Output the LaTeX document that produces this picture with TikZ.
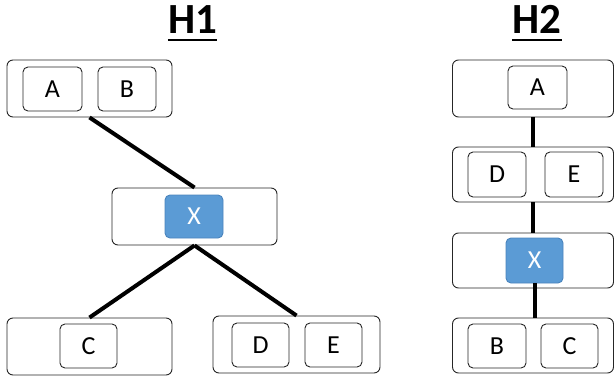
\documentclass[tikz,border=0pt]{standalone}
\usepackage{fontspec}
\setmainfont{Carlito}
\definecolor{xblue}{HTML}{5B9BD5}
\definecolor{xborder}{HTML}{4A84BC}
\definecolor{boxline}{HTML}{262626}
\begin{document}
\begin{tikzpicture}[x=1pt,y=-1pt,
  outer/.style={draw=boxline, line width=0.9pt, rounded corners=6pt, inner sep=0pt},
  inner/.style={draw=boxline, line width=0.9pt, rounded corners=5pt, inner sep=0pt,
    minimum width=58pt, minimum height=44pt, font=\fontsize{26}{30}\selectfont},
  xbox/.style={inner, fill=xblue, draw=xborder, text=white},
  link/.style={line width=4pt},
  title/.style={font=\fontsize{43}{48}\selectfont\bfseries, inner sep=0pt, anchor=base},
  uline/.style={line width=2.5pt}]
\useasboundingbox (0,0) rectangle (614,378);

% ---------- H1 ----------
\node[title] (t1) at (192.5,33) {H1};
\draw[uline] ([yshift=-7pt]t1.base west) -- ([yshift=-7pt]t1.base east);

\node[outer, minimum width=165pt, minimum height=57pt] (ABo) at (89.5,88.5) {};
\node[inner, minimum width=59pt] (A1) at (52.5,89) {A};
\node[inner] (B1) at (127,89) {B};

\node[outer, minimum width=165pt, minimum height=57pt] (Xo) at (194.5,216.5) {};
\node[xbox, minimum height=43pt] (X1) at (194,216.5) {X};

\node[outer, minimum width=165pt, minimum height=57pt] (Co) at (89.5,346.5) {};
\node[inner, minimum width=57pt] (C1) at (88.5,346) {C};

\node[outer, minimum width=167pt, minimum height=57pt] (DEo) at (296.5,344.5) {};
\node[inner, minimum width=57pt] (D1) at (260.5,345) {D};
\node[inner, minimum width=57pt] (E1) at (333.5,345) {E};

\draw[link] (ABo.south) -- (Xo.north);
\draw[link] (Xo.south) -- (Co.north);
\draw[link] (Xo.south) -- (DEo.north);

% ---------- H2 ----------
\node[title] (t2) at (537,33) {H2};
\draw[uline] ([yshift=-7pt]t2.base west) -- ([yshift=-7pt]t2.base east);

\node[outer, minimum width=161pt, minimum height=57pt] (A2o) at (533,88.5) {};
\node[inner, minimum width=59pt, minimum height=43pt] (A2) at (537.5,87.5) {A};

\node[outer, minimum width=161pt, minimum height=55pt] (DE2o) at (533,174.5) {};
\node[inner, minimum height=45pt] (D2) at (497,174.5) {D};
\node[inner, minimum height=45pt] (E2) at (574,174.5) {E};

\node[outer, minimum width=161pt, minimum height=55pt] (X2o) at (533,260.5) {};
\node[xbox, minimum width=57pt, minimum height=45pt] (X2) at (534.5,260.5) {X};

\node[outer, minimum width=161pt, minimum height=55pt] (BC2o) at (533,345.5) {};
\node[inner] (B2) at (497,346) {B};
\node[inner, minimum width=57pt] (C2) at (569.5,346) {C};

\draw[link] (A2o.south) -- (DE2o.north);
\draw[link] (DE2o.south) -- (X2o.north);
\draw[link] (X2.south) -- (X2.south |- BC2o.north);
\end{tikzpicture}
\end{document}
